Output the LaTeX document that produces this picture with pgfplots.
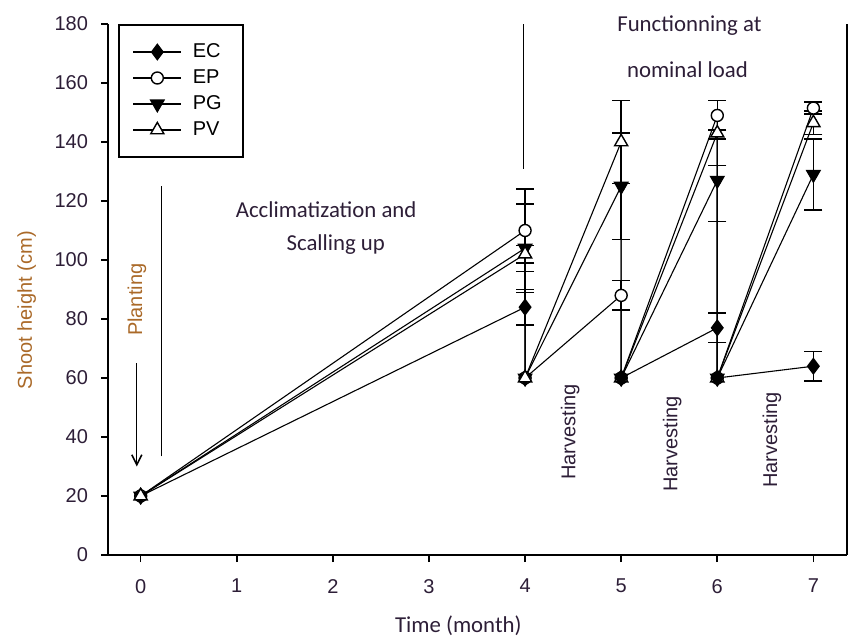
\documentclass[border=0pt]{standalone}
\usepackage{pgfplots}
\pgfplotsset{compat=1.18}
\usepackage{fontspec}
\setmainfont{Liberation Sans}
\newfontfamily\calibri{Carlito}
\usetikzlibrary{arrows.meta}
\definecolor{lblorange}{RGB}{170,105,40}
\definecolor{txtdark}{RGB}{45,30,55}

\begin{document}
\begin{tikzpicture}
\begin{axis}[
    at={(0pt,0pt)}, anchor=south west,
    scale only axis,
    width=369.5pt, height=265.5pt,
    xmin=-0.34, xmax=7.35, ymin=0, ymax=180,
    clip=false,
    axis lines=left,
    axis line style={-, line width=1pt},
    xtick={0,...,7}, ytick={0,20,...,180},
    tick align=outside,
    major tick length=3.5pt,
    tick style={line width=0.8pt, black},
    /pgf/number format/assume math mode=true,
    ticklabel style={font=\fontsize{10}{12}\selectfont, text=txtdark},
    xticklabel style={yshift=-5pt},
    yticklabel style={xshift=-3pt},
    xlabel={Time (month)},
    ylabel={Shoot height (cm)},
    xlabel style={font=\calibri\fontsize{11.4}{13}\selectfont, text=txtdark,
        at={(axis description cs:0.474,-0.134)}, anchor=center},
    ylabel style={font=\fontsize{10}{12}\selectfont, text=lblorange,
        at={(axis description cs:-0.11,0.461)}, anchor=center},
    legend style={at={(axis description cs:0.0135,1)}, anchor=north west,
        draw=black, line width=0.8pt, inner xsep=0pt, inner ysep=9pt,
        row sep=3.8pt, font=\fontsize{10}{12}\selectfont,
        nodes={inner sep=0pt, text height=7.2pt, text depth=2pt, text width=25pt, align=left}},
    legend cell align=left,
    legend image code/.code={
        \path (-7pt,0pt) (29.5pt,0pt);
        \draw[mark repeat=2, mark phase=2, #1] plot coordinates {(0pt,0pt) (12pt,0pt) (24pt,0pt)};
    },
    ebar/.style={forget plot, only marks, mark=none,
        error bars/.cd, y dir=both, y explicit,
        error bar style={black, solid, line width=0.7pt},
        error mark options={rotate=90, mark size=4.5pt, line width=0.7pt, black}},
    series/.style={black, line width=0.55pt},
]
% error bars (mean +- sd)
\addplot[ebar] coordinates {(4,84) +- (0,6) (6,77) +- (0,5) (7,64) +- (0,5)};
\addplot[ebar] coordinates {(4,110) +- (0,14) (5,88) +- (0,5) (6,149) +- (0,5) (7,151.5) +- (0,2)};
\addplot[ebar] coordinates {(4,104) +- (0,15) (5,125) +- (0,18) (6,127) +- (0,14) (7,129) +- (0,12)};
\addplot[ebar] coordinates {(4,102) +- (0,3) (5,140) +- (0,14) (6,143) +- (0,11) (7,146.5) +- (0,4)};

% EC
\addplot[series, mark=diamond*, mark size=3.8pt, mark options={fill=black, solid, line width=0.7pt}]
    coordinates {(0,20) (4,84) (4,60)};
\addlegendentry{EC}
% EP
\addplot[series, mark=*, mark size=3pt, mark options={fill=white, solid, line width=0.7pt}]
    coordinates {(0,20) (4,110) (4,60) (5,88) (5,60) (6,149) (6,60) (7,151.5)};
\addlegendentry{EP}
% PG
\addplot[series, mark=triangle*, mark size=3.8pt, mark options={fill=black, rotate=180, solid, line width=0.7pt}]
    coordinates {(0,20) (4,104) (4,60) (5,125) (5,60) (6,127) (6,60) (7,129)};
\addlegendentry{PG}
% PV
\addplot[series, mark=triangle*, mark size=3.8pt, mark options={fill=white, solid, line width=0.7pt}]
    coordinates {(0,20) (4,102) (4,60) (5,140) (5,60) (6,143) (6,60) (7,146.5)};
\addlegendentry{PV}
% EC after the first harvest
\addplot[series, forget plot, mark=diamond*, mark size=3.8pt, mark options={fill=black, solid, line width=0.7pt}]
    coordinates {(5,60) (6,77) (6,60) (7,64)};

% right frame line
\draw[line width=1pt] (rel axis cs:1,0) -- (rel axis cs:1,1);

% annotations
\node[rotate=90, text=lblorange, font=\fontsize{10}{12}\selectfont] at (axis cs:-0.04,86.5) {Planting};
\draw[line width=0.6pt, -{Straight Barb[length=5pt, width=5pt, line width=0.8pt]}]
    (axis cs:-0.04,65) -- (axis cs:-0.04,30);
\draw[line width=0.6pt] (axis cs:0.22,33.4) -- (axis cs:0.22,125);
\draw[line width=0.6pt] (axis cs:3.98,131) -- (axis cs:3.98,180);
\node[font=\calibri\fontsize{11.4}{13}\selectfont, text=txtdark] at (axis cs:1.93,117) {Acclimatization and};
\node[font=\calibri\fontsize{11.4}{13}\selectfont, text=txtdark] at (axis cs:2.03,105.4) {Scalling up};
\node[font=\calibri\fontsize{11.4}{13}\selectfont, text=txtdark] at (axis cs:5.71,179.3) {Functionning at};
\node[font=\calibri\fontsize{11.4}{13}\selectfont, text=txtdark] at (axis cs:5.69,164.6) {nominal load};
\node[rotate=90, font=\fontsize{10}{12}\selectfont, text=txtdark] at (axis cs:4.47,41.7) {Harvesting};
\node[rotate=90, font=\fontsize{10}{12}\selectfont, text=txtdark] at (axis cs:5.53,37.6) {Harvesting};
\node[rotate=90, font=\fontsize{10}{12}\selectfont, text=txtdark] at (axis cs:6.57,39) {Harvesting};
\end{axis}
\pgfresetboundingbox
\path[use as bounding box] (-54pt,-43.5pt) rectangle (373.5pt,277.5pt);
\end{tikzpicture}
\end{document}
